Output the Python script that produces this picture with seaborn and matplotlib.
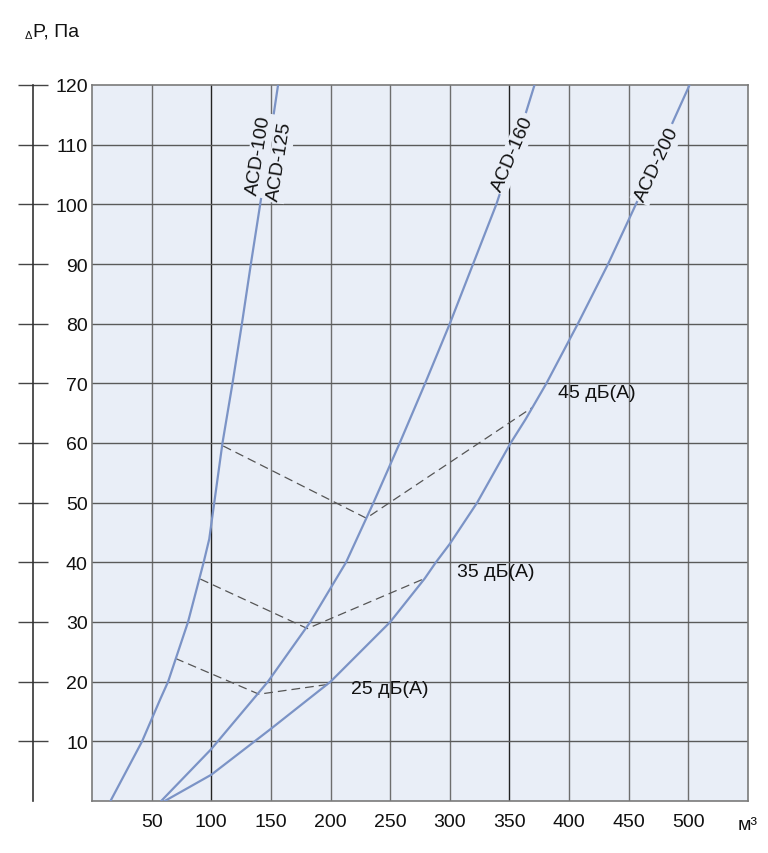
import pandas as pd
import matplotlib.pyplot as plt
import seaborn as sns

# curve data: flow (m3) vs pressure drop (Pa)
acd100_x = [15.5, 42, 57.3, 63.8, 80.5, 93.6, 98.3, 102.5, 109.4, 117.8, 125.7, 133.2, 141, 148.5, 156]
acd100_y = [0, 10, 17.1, 20, 30, 40, 43.9, 50, 60, 70, 80, 90, 100, 110, 120]

acd160_x = [58, 100, 147.5, 183, 213, 236, 258, 279.3, 300, 319.5, 339, 355.5, 371]
acd160_y = [0, 8.7, 20, 30, 40, 50, 60, 70, 80, 90, 100, 110, 120]

acd200_x = [61, 100, 150, 200, 250, 279, 288.3, 300, 322.9, 351, 363.6, 381, 407.4, 432.7, 456, 478.4, 501]
acd200_y = [0, 4.4, 12.1, 20, 30, 37.3, 40, 43.1, 50, 60, 64, 70, 80, 90, 100, 110, 120]

# noise level lines (dashed)
db45_x = [110, 230, 369.5]
db45_y = [59.5, 47.4, 66]
db35_x = [90.8, 180.6, 279]
db35_y = [37.2, 28.9, 37.3]
db25_x = [69.9, 140, 200]
db25_y = [23.9, 17.9, 19.6]

x_ticks = [50, 100, 150, 200, 250, 300, 350, 400, 450, 500]
y_ticks = [10, 20, 30, 40, 50, 60, 70, 80, 90, 100, 110, 120]

curves = pd.concat([
    pd.DataFrame({'Q': acd100_x, 'dP': acd100_y, 'model': 'ACD-100'}),
    pd.DataFrame({'Q': acd160_x, 'dP': acd160_y, 'model': 'ACD-160'}),
    pd.DataFrame({'Q': acd200_x, 'dP': acd200_y, 'model': 'ACD-200'}),
])
levels = pd.concat([
    pd.DataFrame({'Q': db45_x, 'dP': db45_y, 'level': '45'}),
    pd.DataFrame({'Q': db35_x, 'dP': db35_y, 'level': '35'}),
    pd.DataFrame({'Q': db25_x, 'dP': db25_y, 'level': '25'}),
])

sns.set_style('white')
plt.rcParams['font.family'] = ['Liberation Sans', 'DejaVu Sans']
plt.rcParams['text.color'] = '#111111'

bg = '#e9eef7'
curve_col = '#7b93c6'

fig = plt.figure(figsize=(7.68, 8.54), dpi=100)
ax = fig.add_axes([92 / 768, 52 / 854, 656 / 768, 716 / 854])
ax.set_facecolor(bg)

# grid
for x in x_ticks:
    ax.axvline(x, color='#222222' if x in (100, 350) else '#6e6e6e', lw=1, zorder=1)
for y in y_ticks[:-1]:
    ax.axhline(y, color='#5a5a5a', lw=1, zorder=1)

sns.lineplot(data=levels, x='Q', y='dP', units='level', estimator=None, sort=False,
             color='#555555', lw=0.9, dashes=False, ax=ax, zorder=2)
for line in ax.lines[-3:]:
    line.set_dashes((7, 4))

sns.lineplot(data=curves, x='Q', y='dP', units='model', estimator=None, sort=False,
             color=curve_col, lw=1.6, ax=ax, zorder=3)

ax.set_xlim(0, 550)
ax.set_ylim(0, 120)
ax.set_xticks(x_ticks)
ax.set_yticks(y_ticks)
ax.set_xlabel('')
ax.set_ylabel('')
ax.tick_params(axis='both', length=0, labelsize=14, colors='#111111')
ax.tick_params(axis='x', pad=9)
ax.tick_params(axis='y', pad=3)
for s in ax.spines.values():
    s.set_color('#7a7a7a')
    s.set_linewidth(1.2)

# separate ruler on the left
ruler = ax.secondary_yaxis(-0.0907)
ruler.set_yticks(y_ticks)
ruler.tick_params(direction='inout', length=21.6, width=1, color='#444444', labelleft=False)
ruler.spines['left'].set_color('#333333')
ruler.spines['left'].set_linewidth(1.2)

# curve labels
box = dict(facecolor=bg, edgecolor='none', pad=1.5)
ax.text(140, 108.3, 'ACD-100', rotation=81, ha='center', va='center', fontsize=14,
        bbox=box, zorder=4, rotation_mode='anchor')
ax.text(157.5, 107.3, 'ACD-125', rotation=81, ha='center', va='center', fontsize=14,
        bbox=box, zorder=4, rotation_mode='anchor')
ax.text(353, 108.5, 'ACD-160', rotation=66.5, ha='center', va='center', fontsize=14,
        bbox=box, zorder=4, rotation_mode='anchor')
ax.text(474, 106.8, 'ACD-200', rotation=64.5, ha='center', va='center', fontsize=14,
        bbox=box, zorder=4, rotation_mode='anchor')

ax.text(390.4, 68.4, '45 дБ(А)', ha='left', va='center', fontsize=14, zorder=4)
ax.text(305.9, 38.4, '35 дБ(А)', ha='left', va='center', fontsize=14, zorder=4)
ax.text(217, 18.8, '25 дБ(А)', ha='left', va='center', fontsize=14, zorder=4)

fig.text(738 / 768, 1 - 826 / 854, 'м³', ha='left', va='center', fontsize=14)
fig.text(25 / 768, 1 - 36 / 854, 'Δ', ha='left', va='center', fontsize=8)
fig.text(33 / 768, 1 - 32 / 854, 'P, Па', ha='left', va='center', fontsize=14)

fig.savefig('out.png', dpi=100, facecolor='white')
